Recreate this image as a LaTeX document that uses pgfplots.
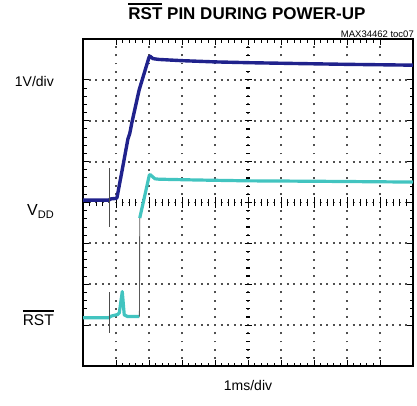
\documentclass[border=0pt]{standalone}
\usepackage{fontspec}
\setmainfont{Liberation Sans}
\usepackage{pgfplots}
\pgfplotsset{compat=1.18}
\definecolor{vddblue}{RGB}{32,34,140}
\definecolor{rstteal}{RGB}{66,196,192}
\definecolor{griddot}{RGB}{80,80,80}
\newcommand\ovl[2]{\leavevmode\vbox{\hrule height 1.3pt\kern #1\hbox{#2}}}
\begin{document}
\begin{tikzpicture}
\useasboundingbox (-83pt,-39pt) rectangle (334pt,366pt);
\begin{axis}[
  scale only axis, width=330pt, height=327pt,
  xticklabels={}, yticklabels={},
  tick style={black, line width=1pt},
  xmin=0, xmax=10, ymin=0, ymax=8,
  xtick={1,2,3,4,5,6,7,8,9}, ytick={1,2,3,4,5,6,7},
  minor x tick num=4, minor y tick num=4,
  major tick length=6pt, minor tick length=3.5pt,
  tick align=inside,
  xtick pos=both, ytick pos=both,
  grid=major,
  major grid style={draw=griddot, line width=1.9pt},
  every axis x grid/.style={dash pattern=on 1.9pt off 6.275pt, dash phase=0.95pt},
  every axis y grid/.style={dash pattern=on 1.9pt off 4.7pt, dash phase=0.95pt},
  axis line style={line width=2pt, black},
  clip=true,
]
% centre graticule ticks
\pgfplotsinvokeforeach{0.2,0.4,...,9.8}{\draw[black,line width=1pt] (axis cs:#1,4) ++(0,-3.5pt) -- ++(0,7pt);}
\pgfplotsinvokeforeach{1,...,9}{\draw[black,line width=1pt] (axis cs:#1,4) ++(0,-5.5pt) -- ++(0,11pt);}
\pgfplotsinvokeforeach{0.2,0.4,...,7.8}{\draw[black,line width=1.2pt] (axis cs:5,#1) ++(-2pt,0) -- ++(4pt,0);}
\pgfplotsinvokeforeach{1,...,7}{\draw[black,line width=1.2pt] (axis cs:5,#1) ++(-3.5pt,0) -- ++(7pt,0);}
% VDD trace
\addplot[vddblue, line width=3.4pt, line join=round] coordinates {
  (0,4.06) (0.78,4.06) (0.85,4.09) (1.0,4.10) (1.03,4.12)
  (1.20,4.85) (1.36,5.55) (1.42,5.70) (1.48,5.95)
  (1.70,6.75) (2.00,7.55) (2.03,7.58) (2.12,7.52) (2.30,7.50)
  (3.0,7.47) (4.0,7.44) (5.06,7.42) (6.5,7.40) (8.0,7.38) (10,7.36)
};
% RST trace, low part
\addplot[rstteal, line width=3.2pt, line join=round] coordinates {
  (0,1.18) (0.78,1.18) (0.85,1.22) (1.05,1.26) (1.10,1.30)
  (1.19,1.82) (1.25,1.25) (1.35,1.21) (1.71,1.21)
};
\addplot[gray!70!black, line width=0.9pt] coordinates {
  (1.71,1.21) (1.72,3.62)
};
\addplot[rstteal, line width=3.2pt, line join=round] coordinates {
  (1.72,3.62) (2.01,4.67) (2.04,4.68) (2.18,4.58) (2.3,4.57)
  (3.5,4.55) (5.0,4.53) (7.0,4.52) (10,4.50)
};
\addplot[gray!60!black, line width=0.9pt] coordinates {(0.79,4.84) (0.79,3.40)};
\addplot[gray!60!black, line width=0.9pt] coordinates {(0.79,1.81) (0.79,0.80)};
\end{axis}
\node[font=\fontsize{17}{17}\selectfont\bfseries] at (164pt,354.5pt) {\ovl{3.2pt}{RST} PIN DURING POWER-UP};
\node[anchor=east, font=\fontsize{9.5}{9.5}\selectfont, inner sep=0pt] at (331pt,332pt) {MAX34462 toc07};
\node[anchor=east, font=\fontsize{14}{14}\selectfont, inner sep=0pt] at (-29pt,284.5pt) {1V/div};
\node[anchor=base east, font=\fontsize{16}{16}\selectfont, inner sep=0pt] at (-29pt,151pt) {V\raisebox{-3pt}{\fontsize{11}{11}\selectfont DD}};
\node[anchor=base east, font=\fontsize{15.5}{15.5}\selectfont, inner sep=0pt] at (-29pt,41pt) {\ovl{2.5pt}{RST}};
\node[anchor=base, font=\fontsize{14}{14}\selectfont, inner sep=0pt] at (165pt,-24pt) {1ms/div};
\end{tikzpicture}
\end{document}
